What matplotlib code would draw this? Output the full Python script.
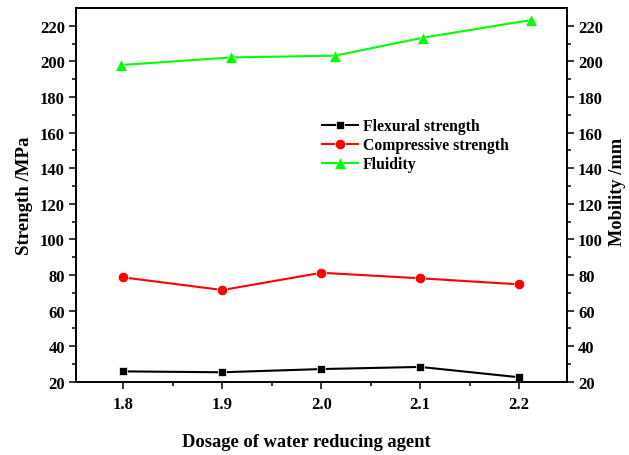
import matplotlib
matplotlib.use("Agg")
import matplotlib.pyplot as plt
from matplotlib.ticker import MultipleLocator

plt.rcParams['font.family'] = ['Liberation Serif', 'DejaVu Serif']
plt.rcParams['font.weight'] = 'bold'

dosage = [1.8, 1.9, 2.0, 2.1, 2.2]
flexural = [25.8, 25.3, 27.1, 28.3, 22.5]
compressive = [78.6, 71.5, 81.2, 78.1, 74.7]
fluid_dosage = [1.797, 1.909, 2.014, 2.103, 2.212]
fluidity = [197.9, 202.2, 203.2, 213.3, 223.2]
xticks = [1.8, 1.9, 2.0, 2.1, 2.2]
xtick_labels = ['1.8', '1.9', '2.0', '2.1', '2.2']
yticks = [20, 40, 60, 80, 100, 120, 140, 160, 180, 200, 220]

W, H = 629, 456
fig = plt.figure(figsize=(W/100, H/100), dpi=100)
left, right, top, bottom = 76, 567, 9.3, 382.7
ax = fig.add_axes([left/W, 1-bottom/H, (right-left)/W, (bottom-top)/H])
ax2 = ax.twinx()

l1, = ax.plot(dosage, flexural, color='black', lw=1.5, marker='s', ms=6.2,
              mec='white', mew=0.5, label='Flexural strength', clip_on=False, zorder=3)
l2, = ax.plot(dosage, compressive, color='#ff0000', lw=1.5, marker='o', ms=7.5,
              mec='white', mew=0.5, label='Compressive strength', zorder=3)
l3, = ax2.plot(fluid_dosage, fluidity, color='#00ff00', lw=1.5, marker='^', ms=8,
               mec='white', mew=0.5, label='Fluidity', zorder=3)

for a in (ax, ax2):
    a.set_ylim(20, 229.8)
    a.set_yticks(yticks)
    a.yaxis.set_minor_locator(MultipleLocator(10))
    for s in a.spines.values():
        s.set_linewidth(1.2)
ax.set_xlim(1.752, 2.2485)
ax.set_xticks(xticks)
ax.set_xticklabels(xtick_labels)
ax.xaxis.set_minor_locator(MultipleLocator(0.05))

ax.tick_params(axis='both', which='major', direction='out', length=5, width=1.1,
               labelsize=12, pad=3)
ax.tick_params(axis='both', which='minor', direction='out', length=3, width=1.1)
ax.tick_params(axis='x', which='both', top=False)
ax.tick_params(axis='x', which='major', pad=5)
ax2.tick_params(axis='y', which='major', direction='out', length=5, width=1.1,
                labelsize=12, pad=3)
ax2.tick_params(axis='y', which='minor', direction='out', length=3, width=1.1)

ax.set_ylabel('Strength /MPa', fontsize=13.6, fontweight='bold')
ax.yaxis.set_label_coords(-0.087, 0.5)
ax2.set_ylabel('Mobility /mm', fontsize=13.2, fontweight='bold')
ax2.yaxis.set_label_coords(1.086, 0.512)
ax.set_xlabel('Dosage of water reducing agent', fontsize=13.3, fontweight='bold')
ax.xaxis.set_label_coords(0.47, -0.137)

leg = ax.legend(handles=[l1, l2, l3], loc='upper left',
                bbox_to_anchor=(321.7/W, 1-119/H), bbox_transform=fig.transFigure,
                frameon=False, borderpad=0, borderaxespad=0,
                handlelength=2.3, handletextpad=0.3, labelspacing=0.2,
                prop={'weight': 'bold', 'size': 11.3})
leg.set_zorder(5)

fig.savefig('out.png', dpi=100)
